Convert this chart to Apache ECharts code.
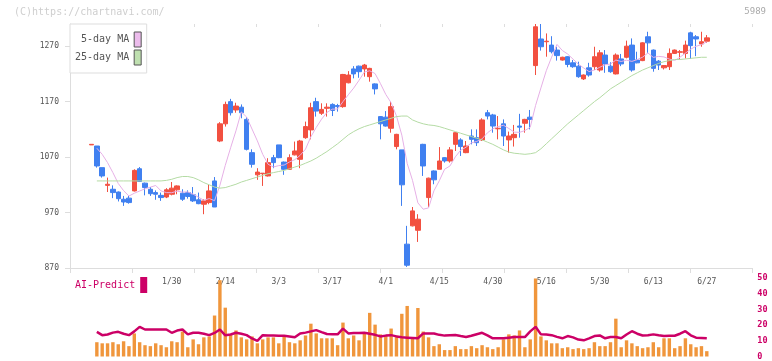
<!DOCTYPE html>
<html><head><meta charset="utf-8">
<script src="https://cdn.jsdelivr.net/npm/echarts@6/dist/echarts.min.js"></script>
<style>html,body{margin:0;padding:0;background:#fff}#c{width:772px;height:361px}</style>
</head><body><div id="c"></div>
<script>
const dates = ["1/8","1/9","1/10","1/14","1/15","1/16","1/17","1/20","1/21","1/22","1/23","1/24","1/27","1/28","1/29","1/30","1/31",
"2/3","2/4","2/5","2/6","2/7","2/10","2/12","2/13","2/14","2/17","2/18","2/19","2/20","2/21","2/25","2/26","2/27","2/28",
"3/3","3/4","3/5","3/6","3/7","3/10","3/11","3/12","3/13","3/14","3/17","3/18","3/19","3/21","3/24","3/25","3/26","3/27","3/28","3/31",
"4/1","4/2","4/3","4/4","4/7","4/8","4/9","4/10","4/11","4/14","4/15","4/16","4/17","4/18","4/21","4/22","4/23","4/24","4/25","4/28","4/30",
"5/1","5/2","5/7","5/8","5/9","5/12","5/13","5/14","5/15","5/16","5/19","5/20","5/21","5/22","5/23","5/26","5/27","5/28","5/29","5/30",
"6/2","6/3","6/4","6/5","6/6","6/9","6/10","6/11","6/12","6/13","6/16","6/17","6/18","6/19","6/20","6/23","6/24","6/25","6/26","6/27"];
const opens = [1092,1090,1051,1019,1012,1007,994,996,1009,1049,1023,1012,1006,1001,998,1003,1011,1005,1006,1002,993,985,988,1027,1099,1130,1170,1155,1160,1138,
1078,1038,1040,1036,1069,1092,1061,1048,1074,1066,1105,1119,1170,1149,1158,1165,1163,1161,1204,1229,1234,1229,1215,1202,1143,1142,1122,1089,1083,913,
946,938,1093,997,1045,1048,1069,1063,1093,1101,1078,1108,1105,1101,1150,1146,1121,1130,1101,1105,1126,1131,1142,1235,1283,1278,1272,1263,1245,1251,
1240,1234,1211,1231,1233,1227,1254,1234,1220,1247,1250,1272,1245,1244,1287,1263,1243,1231,1233,1257,1259,1257,1294,1287,1274,1279];
const closes = [1093,1054,1036,1021,1006,995,989,988,1046,1026,1015,1004,1003,997,1011,1014,1018,994,999,991,986,991,1009,980,1130,1165,1150,1162,1150,1084,
1057,1043,1041,1060,1060,1069,1048,1069,1081,1099,1125,1159,1153,1156,1160,1154,1161,1219,1218,1220,1224,1236,1230,1193,1130,1126,1161,1111,1020,875,
973,958,1054,1032,1029,1063,1063,1083,1114,1089,1090,1102,1096,1137,1144,1126,1122,1108,1108,1111,1124,1138,1138,1305,1269,1279,1260,1253,1250,1237,
1233,1215,1218,1218,1251,1258,1238,1224,1254,1238,1270,1227,1240,1276,1276,1230,1236,1235,1257,1263,1260,1272,1271,1283,1278,1285];
const lows = [1092,1051,1033,1007,996,990,982,986,1008,1025,1001,1000,993,991,996,1001,1003,991,995,989,985,967,985,980,1097,1125,1145,1150,1140,1082,
1051,1029,1018,1035,1050,1068,1038,1047,1073,1050,1103,1102,1143,1146,1143,1144,1152,1159,1203,1212,1213,1215,1206,1183,1102,1125,1114,1084,982,872,
945,917,1036,980,1021,1048,1060,1060,1081,1072,1077,1093,1090,1099,1138,1114,1102,1090,1078,1089,1105,1114,1120,1218,1262,1251,1257,1244,1244,1232,
1231,1213,1209,1215,1227,1224,1222,1222,1219,1234,1248,1224,1239,1243,1258,1224,1227,1228,1227,1256,1247,1248,1247,1252,1269,1276];
const highs = [1093,1090,1051,1033,1019,1008,1000,1000,1048,1052,1024,1016,1010,1006,1014,1025,1019,1012,1010,1016,1006,994,1021,1034,1133,1170,1175,1168,1165,1142,
1084,1050,1041,1068,1074,1092,1062,1075,1098,1101,1134,1168,1177,1167,1167,1167,1166,1220,1225,1234,1235,1238,1231,1203,1144,1153,1170,1112,1083,946,
980,967,1094,1033,1046,1088,1070,1088,1115,1104,1099,1120,1120,1140,1155,1148,1144,1138,1116,1128,1148,1139,1155,1310,1310,1293,1288,1269,1251,1252,
1245,1242,1219,1240,1269,1263,1263,1241,1257,1256,1280,1284,1260,1277,1296,1264,1245,1236,1266,1264,1263,1280,1296,1290,1296,1290];
const ma5 = ['-',1086,1075,1060,1042,1022.4,1009.4,999.8,1004.8,1008.8,1012.8,1015.8,1018.8,1009,1006,1005.8,1008.6,1006.8,1007.2,1003.2,997.6,992.2,995.2,991.4,1019.2,1055,1086.8,1117.4,1151.4,1142.2,
1120.6,1099.2,1075,1057,1052.2,1054.6,1055.6,1061.2,1065.4,1073.2,1084.4,1106.6,1123.4,1138.4,1150.6,1156.4,1156.8,1170,1182.4,1194.4,1208.4,1223.4,1225.6,1220.6,1202.6,1183,1168,1144.2,1109.6,1058.6,
1028,987.4,976,978.4,1009.2,1027.2,1048.2,1054,1070.4,1082.4,1087.8,1095.6,1098.2,1102.8,1113.8,1121,1125,1127.4,1121.6,1115,1114.6,1117.8,1123.8,1163.2,1194.8,1225.8,1250.2,1273.2,1262.2,1255.8,
1246.6,1237.6,1230.6,1224.2,1227,1232,1236.6,1237.8,1245,1242.4,1244.8,1242.6,1245.8,1250.2,1257.8,1249.8,1251.6,1250.6,1246.8,1244.2,1250.2,1257.4,1264.6,1269.8,1272.8,1277.8];
const ma25 = ['-',1027,1027,1027,1027,1027,1027,1027,1027,1027,1027,1027,1027,1027,1028,1030,1033,1035,1035,1033,1029,1024,1020,1016,1014,1015,1018,1021,1025,1028,
1031,1034,1037,1040,1042,1044,1046,1049,1052,1055,1059,1063,1068,1074,1080,1087,1094,1102,1110,1116,1121,1125,1128,1131,1134,1137,1140,1143,1144,1144,
1137,1133,1130,1128,1127,1125,1122,1119,1116,1113,1110,1107,1104,1101,1097,1093,1088,1083,1079,1077,1076,1075,1076,1078,1085,1094,1103,1112,1121,1130,
1138,1146,1154,1162,1170,1177,1185,1193,1199,1205,1211,1217,1222,1227,1231,1235,1239,1242,1244,1246,1246,1247,1248,1249,1250,1250];
const volume = ['-',9.1,8.4,8.4,9.1,7.8,9.7,6.6,14.7,9.1,7.2,6.6,8.4,7.2,5.9,9.7,9.1,15.9,5.9,10.9,7.8,12.2,12.8,26.1,48.6,31.1,14.1,16.6,12.2,10.9,12.8,
8.4,10.9,12.2,12.2,8.4,12.8,9.1,8.4,10.3,13.4,20.9,14.7,11.6,11.6,11.6,7.2,21.6,11.6,13.4,10.3,14.7,27.8,20.3,14.1,13.4,17.8,13.4,27.2,32.2,12,
30.9,15.9,12.2,6.6,7.8,4.1,4.1,6.6,4.7,4.7,6.6,5.3,7.2,5.9,4.7,5.9,10.9,14.1,13.4,16.6,5.9,10.9,49.7,12.8,10.3,8.4,8.4,5.3,5.9,4.7,
5.3,4.7,5.3,9.1,6.6,6.6,9.1,24.1,5.9,10.3,8.4,6.6,5.3,5.9,9.1,5.9,11.6,11.6,5.3,6.6,11.6,7.8,5.9,6.6,3.4];
const aiPredict = ['-',15.7,13.6,14,15.2,15.7,14.5,13.6,16,18.9,17.2,17.2,17.2,17.2,17.2,15.1,16.5,17.2,14.1,15.1,15.1,14.5,13.6,15,17.2,13.5,14,15.1,14.5,13.6,11.5,
10,13.6,13.4,13.3,13.2,13.2,12.7,12.2,14.7,15.2,16,16.8,15.5,14.3,14.2,14.1,17.8,14.7,15,15,15.1,14.5,13.8,12.8,13.3,13.6,12.8,12.2,12,11.8,
11.6,14.7,14.7,14.7,13.8,13.3,13.5,13.7,13,12.4,13.2,14.2,15.1,13.5,11.6,11.6,11.6,12,12.4,12.4,12.4,16,18.9,14.1,14,13.6,12.5,11.6,13,12.2,
10.8,10.3,11.5,13,13.4,11.6,12.4,12.4,11.6,14,16.1,14.5,13.4,13.6,14.1,13.5,13,13.2,13.2,14.5,16.1,13.5,12,11.8,11.6];
const priceTicks = [870,970,1070,1170,1270];
const volTicks = [0,10,20,30,40,50];

const mono = '"DejaVu Sans Mono","Liberation Mono",monospace';
const UP = '#f25040', DOWN = '#4080f0';
const candleData = opens.map((o, i) => [o, closes[i], lows[i], highs[i]]);
const chart = echarts.init(document.getElementById('c'));
chart.setOption({
  animation: false,
  graphic: [
    {type:'text', left:14, top:7, style:{text:'(C)https://chartnavi.com/', fill:'#cfcfcf', font:'10px ' + mono}},
    {type:'text', right:6, top:7, style:{text:'5989', fill:'#aaaaaa', font:'9px ' + mono}}
  ],
  legend: [
    {left:70, top:24, orient:'vertical', align:'right', padding:[7.5,5,7.5,5], itemGap:2, itemWidth:7, itemHeight:15, itemTextGap:7,
     borderColor:'#dddddd', borderWidth:1, backgroundColor:'#ffffff', selectedMode:false,
     textStyle:{color:'#555', fontFamily:mono, fontSize:10},
     formatter: n => n.padStart(9, '\u00a0'),
     data:[{name:'5-day MA', icon:'rect', itemStyle:{color:'#ecbcec', borderColor:'#555', borderWidth:1}},
           {name:'25-day MA', icon:'rect', itemStyle:{color:'#bfe0b0', borderColor:'#555', borderWidth:1}}]},
    {left:75, top:277, align:'right', padding:0, itemWidth:7, itemHeight:16, itemTextGap:6, selectedMode:false,
     textStyle:{color:'#cc0066', fontFamily:mono, fontSize:10},
     data:[{name:'AI-Predict', icon:'rect', itemStyle:{color:'#cc0066'}}]}
  ],
  grid: [
    {left:70, right:20, top:24, bottom:93},
    {left:91.5, right:65.2, top:24, bottom:93},
    {left:91.5, right:65.2, top:278, bottom:2.5}
  ],
  xAxis: [
    {type:'value', gridIndex:0, min:0, max:11, interval:1, axisLine:{lineStyle:{color:'#dddddd'}},
     axisTick:{length:5, lineStyle:{color:'#dddddd'}}, axisLabel:{show:false}, splitLine:{show:false}},
    {type:'value', gridIndex:0, min:0, max:11, interval:1, axisLine:{show:false},
     axisTick:{inside:true, length:3, lineStyle:{color:'#dddddd'}}, axisLabel:{show:false}, splitLine:{show:false}},
    {type:'category', gridIndex:1, data:dates, boundaryGap:false, axisLine:{show:false}, axisTick:{show:false},
     axisLabel:{interval:(i) => i >= 15 && (i - 15) % 10 === 0, margin:10, color:'#555', fontFamily:mono, fontSize:8}},
    {type:'category', gridIndex:2, data:dates, boundaryGap:false, show:false}
  ],
  yAxis: [
    {type:'value', gridIndex:0, min:870, max:1310, axisLine:{show:true, lineStyle:{color:'#dddddd'}},
     axisTick:{show:true, length:5, customValues:priceTicks, lineStyle:{color:'#dddddd'}},
     axisLabel:{customValues:priceTicks, formatter:v => String(v), margin:11, color:'#555', fontFamily:mono, fontSize:8}, splitLine:{show:false}},
    {type:'value', gridIndex:1, min:870, max:1310, show:false},
    {type:'value', gridIndex:2, min:0, max:50, interval:10, position:'right', offset:45.5, axisLine:{show:false}, axisTick:{show:false},
     axisLabel:{customValues:volTicks, formatter:v => String(v), color:'#cc0066', fontWeight:'bold', fontFamily:mono, fontSize:8.5, margin:5}, splitLine:{show:false}}
  ],
  series: [
    {type:'candlestick', name:'price', xAxisIndex:2, yAxisIndex:1, data:candleData, barWidth:5, clip:false,
     itemStyle:{color:UP, color0:DOWN, borderColor:UP, borderColor0:DOWN, borderWidth:1}},
    {type:'line', name:'5-day MA', xAxisIndex:2, yAxisIndex:1, data:ma5, symbol:'none', lineStyle:{color:'#e6b0e6', width:1}, itemStyle:{color:'#e6b0e6'}},
    {type:'line', name:'25-day MA', xAxisIndex:2, yAxisIndex:1, data:ma25, symbol:'none', lineStyle:{color:'#b4dba4', width:1}, itemStyle:{color:'#b4dba4'}},
    {type:'bar', name:'volume', xAxisIndex:3, yAxisIndex:2, data:volume, barWidth:3.4, clip:false, itemStyle:{color:'#f0963c'}},
    {type:'line', name:'AI-Predict', xAxisIndex:3, yAxisIndex:2, data:aiPredict, symbol:'none', lineStyle:{color:'#cc0066', width:2.5}, itemStyle:{color:'#cc0066'}}
  ]
});
</script></body></html>
